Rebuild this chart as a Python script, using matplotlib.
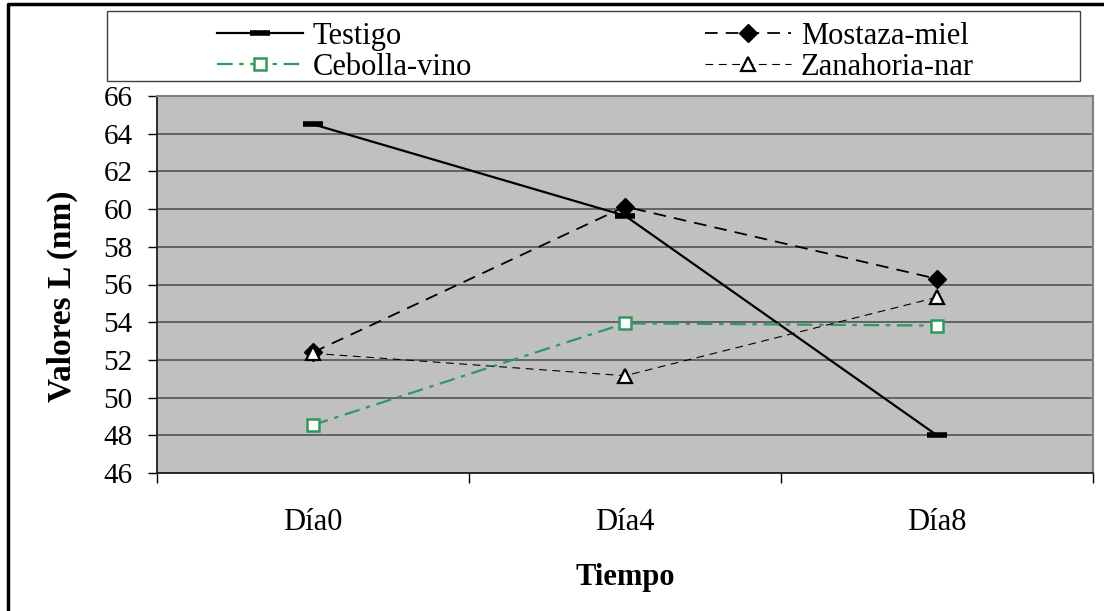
import numpy as np
import matplotlib.pyplot as plt
from matplotlib.lines import Line2D
from matplotlib.patches import Rectangle

# categories and measured L values
dias = ['Día0', 'Día4', 'Día8']
testigo = [64.5, 59.65, 48.0]
mostaza_miel = [52.4, 60.13, 56.3]
cebolla_vino = [48.55, 53.94, 53.82]
zanahoria_nar = [52.35, 51.16, 55.32]

plt.rcParams['font.family'] = ['Liberation Serif', 'DejaVu Serif']

W, H = 1104, 611
fig = plt.figure(figsize=(W / 100, H / 100), dpi=100)
ax = fig.add_axes([157 / W, 1 - 473 / H, 936 / W, 377 / H])
ax.set_facecolor('#c0c0c0')

x = np.arange(len(dias))
green = '#2f9a5c'

l1, = ax.plot(x, testigo, color='black', lw=1.6, marker='_', ms=14, mew=4,
              label='Testigo')
l2, = ax.plot(x, mostaza_miel, color='black', lw=1.3, ls=(0, (7, 4.5)),
              marker='D', ms=9, mfc='black', mec='black', label='Mostaza-miel')
l3, = ax.plot(x, cebolla_vino, color=green, lw=1.6, ls=(0, (7, 3, 2, 3)),
              marker='s', ms=8.5, mfc='white', mec=green, mew=1.8,
              label='Cebolla-vino')
l4, = ax.plot(x, zanahoria_nar, color='black', lw=0.8, ls=(0, (7, 5)),
              marker='^', ms=10, mfc='white', mec='black', mew=1.6,
              label='Zanahoria-nar')

ax.set_ylim(46, 66)
ax.set_yticks(np.arange(46, 67, 2))
ax.grid(axis='y', color='#4a4a4a', lw=1.1)
ax.set_axisbelow(True)

ax.set_xlim(-0.5, 2.5)
ax.set_xticks([-0.5, 0.5, 1.5, 2.5])
ax.set_xticklabels([])
ax.set_xticks(x, minor=True)
ax.set_xticklabels(dias, minor=True)
ax.tick_params(axis='x', which='major', direction='out', length=7.5, width=1,
               color='black')
ax.tick_params(axis='x', which='minor', length=0, pad=25, labelsize=22)
ax.tick_params(axis='y', direction='out', length=6.5, width=1, pad=11,
               labelsize=21)

for side in ['top', 'right']:
    ax.spines[side].set_color('#808080')
    ax.spines[side].set_linewidth(1.5)
for side in ['left', 'bottom']:
    ax.spines[side].set_color('#202020')
    ax.spines[side].set_linewidth(1.3)

ax.set_ylabel('Valores L (nm)', fontsize=24, fontweight='bold')
ax.yaxis.set_label_coords(-0.084, 0.468)
ax.set_xlabel('Tiempo', fontsize=22, fontweight='bold')
ax.xaxis.set_label_coords(0.5, -0.24)

# legend: frame plus two columns of entries
fig.add_artist(Rectangle((107 / W, 1 - 81 / H), 973 / W, 70 / H,
                         transform=fig.transFigure, fill=False,
                         edgecolor='#404040', lw=1.0))
leg_kw = dict(loc='upper left', fontsize=22, frameon=False, borderpad=0,
              borderaxespad=0, labelspacing=0.07, handlelength=2.8,
              handletextpad=0.33)
leg1 = fig.legend(handles=[l1, l3], bbox_to_anchor=(217 / W, 1 - 22 / H),
                  **leg_kw)
leg2 = fig.legend(handles=[l2, l4], bbox_to_anchor=(705 / W, 1 - 22 / H),
                  **leg_kw)

# outer frame on the left and top
fig.add_artist(Line2D([8 / W, 8 / W, 1.0], [0.0, 1 - 4 / H, 1 - 4 / H],
                      transform=fig.transFigure, color='black', lw=2.5))

fig.savefig('out.png', dpi=100)
